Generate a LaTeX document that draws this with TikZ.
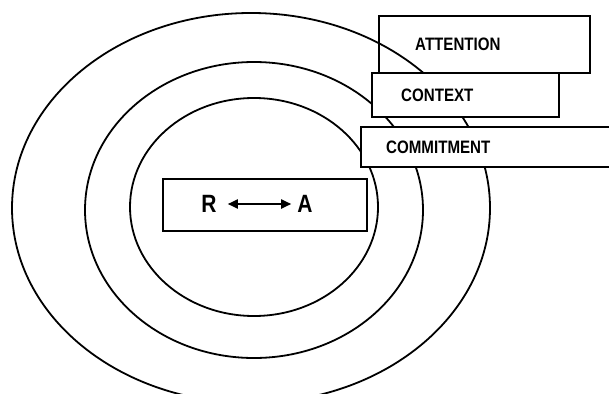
\documentclass[tikz,border=0pt]{standalone}
\usepackage{fontspec}
\setmainfont{Liberation Sans}[FakeStretch=0.84]
\usepackage{tikz}
\usetikzlibrary{positioning, shapes.geometric, arrows.meta}

\begin{document}
\begin{tikzpicture}[x=1pt, y=-1pt,
        ring/.style={ellipse, draw, line width=1.8pt, inner sep=0pt},
        tagbox/.style={rectangle, draw, fill=white, line width=2.4pt, anchor=north west, inner sep=0pt},
        tagtext/.style={anchor=west, inner sep=0pt, font=\fontsize{18}{20}\selectfont\bfseries},
        ratext/.style={inner sep=0pt, font=\fontsize{25}{28}\selectfont\bfseries}]
        \useasboundingbox (0,0) rectangle (609,393);

        % Attention box (behind the outer ring)
        \node[tagbox, minimum width=211pt, minimum height=57pt] (attn) at (378,15) {};
        \node[tagtext, right=37pt of attn.west] (attnlbl) {ATTENTION};

        % Rings
        \node[ring, minimum width=478pt, minimum height=390pt] (outer) at (251,208) {};
        \node[ring, minimum width=338pt, minimum height=296pt] (middle) at (254,210) {};
        \node[ring, minimum width=248pt, minimum height=218pt] (inner) at (254,207) {};

        % Context and commitment boxes (over the rings)
        \node[tagbox, minimum width=187pt, minimum height=44pt] (ctx) at (371,72) {};
        \node[tagtext, right=30pt of ctx.west] (ctxlbl) {CONTEXT};
        \node[tagbox, minimum width=260pt, minimum height=40pt] (cmt) at (360,126) {};
        \node[tagtext, right=26pt of cmt.west] (cmtlbl) {COMMITMENT};

        % R <-> A
        \node[tagbox, minimum width=204pt, minimum height=52pt] (rabox) at (162,178) {};
        \node[ratext] (r) at (209,204) {R};
        \node[ratext] (a) at (305,204) {A};
        \draw[{Triangle[length=10pt,width=9pt]}-{Triangle[length=10pt,width=9pt]}, line width=1.8pt,
              shorten <=11pt, shorten >=6pt] (r) -- (a);
    \end{tikzpicture}
\end{document}
